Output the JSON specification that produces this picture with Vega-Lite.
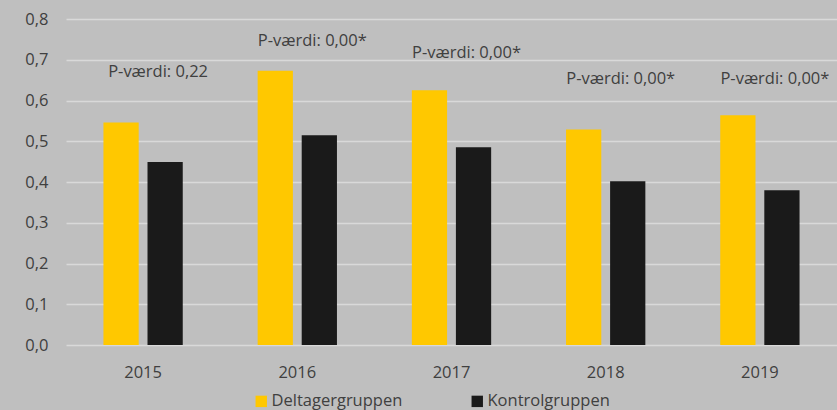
{
  "$schema": "https://vega.github.io/schema/vega-lite/v6.json",
  "width": 771,
  "height": 326,
  "autosize": {"type": "none"},
  "padding": {"left": 66, "top": 19, "right": 0, "bottom": 65},
  "background": "#bfbfbf",
  "config": {
    "view": {"stroke": null},
    "font": "Open Sans",
    "text": {"font": "Open Sans"}
  },
  "datasets": {
    "bars": [
      {"year": "2015", "group": "Deltagergruppen", "value": 0.546},
      {"year": "2015", "group": "Kontrolgruppen", "value": 0.449},
      {"year": "2016", "group": "Deltagergruppen", "value": 0.673},
      {"year": "2016", "group": "Kontrolgruppen", "value": 0.515},
      {"year": "2017", "group": "Deltagergruppen", "value": 0.625},
      {"year": "2017", "group": "Kontrolgruppen", "value": 0.485},
      {"year": "2018", "group": "Deltagergruppen", "value": 0.529},
      {"year": "2018", "group": "Kontrolgruppen", "value": 0.402},
      {"year": "2019", "group": "Deltagergruppen", "value": 0.564},
      {"year": "2019", "group": "Kontrolgruppen", "value": 0.380}
    ],
    "notes": [
      {"year": "2015", "label": "P-værdi: 0,22", "pos": 0.670},
      {"year": "2016", "label": "P-værdi: 0,00*", "pos": 0.746},
      {"year": "2017", "label": "P-værdi: 0,00*", "pos": 0.717},
      {"year": "2018", "label": "P-værdi: 0,00*", "pos": 0.653},
      {"year": "2019", "label": "P-værdi: 0,00*", "pos": 0.653}
    ]
  },
  "layer": [
    {
      "data": {"name": "bars"},
      "mark": {"type": "bar"},
      "encoding": {
        "x": {
          "field": "year", "type": "nominal",
          "scale": {"paddingInner": 0, "paddingOuter": 0},
          "axis": {"title": null, "domain": false, "ticks": false, "labelAngle": 0,
                   "labelFontSize": 16.5, "labelColor": "#404040", "labelPadding": 19, "labelFont": "Open Sans"}
        },
        "xOffset": {
          "field": "group", "type": "nominal",
          "scale": {"paddingInner": 0.2, "paddingOuter": 0.85}
        },
        "y": {
          "field": "value", "type": "quantitative",
          "scale": {"domain": [0, 0.8], "nice": false},
          "axis": {"title": null, "domain": false, "ticks": false, "tickCount": 8,
                   "labelExpr": "replace(format(datum.value, '.1f'), '.', ',')",
                   "labelFontSize": 16.5, "labelColor": "#404040", "labelPadding": 18, "labelFont": "Open Sans",
                   "gridColor": "#d9d9d9", "gridWidth": 1.5}
        },
        "color": {
          "field": "group", "type": "nominal",
          "scale": {"domain": ["Deltagergruppen", "Kontrolgruppen"], "range": ["#ffc800", "#1a1a1a"]},
          "legend": {
            "title": null, "orient": "none", "direction": "horizontal",
            "legendX": 187, "legendY": 374,
            "symbolType": "square", "symbolSize": 130, "symbolStrokeWidth": 0,
            "labelFontSize": 16.5, "labelColor": "#404040", "labelFont": "Open Sans",
            "columnPadding": 66, "labelOffset": 2, "labelLimit": 300
          }
        }
      }
    },
    {
      "data": {"name": "notes"},
      "mark": {"type": "text", "fontSize": 16.5, "color": "#404040", "dx": 15, "baseline": "middle"},
      "encoding": {
        "x": {"field": "year", "type": "nominal"},
        "y": {"field": "pos", "type": "quantitative"},
        "text": {"field": "label"}
      }
    }
  ]
}
